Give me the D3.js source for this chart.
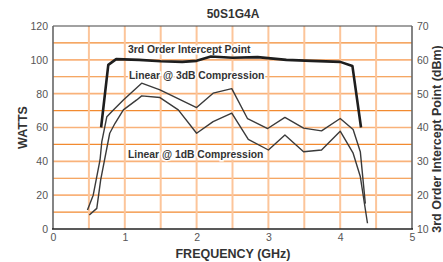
<!DOCTYPE html>
<html>
<head>
<meta charset="utf-8">
<script src="https://cdn.jsdelivr.net/npm/d3@7/dist/d3.min.js"></script>
<style>
  body { margin: 0; background: #fff; }
  svg text { font-family: Arial, "Liberation Sans", Helvetica, sans-serif; }
</style>
</head>
<body>
<svg id="chart" width="443" height="262"></svg>
<script>
// 数据：频率 (GHz) 与功率 (W) / 截获点 (dBm)
const interceptFreq = [0.67, 0.77, 0.88, 1.2, 1.5, 1.8, 2.0, 2.2, 2.5, 2.85, 3.25, 3.6, 4.0, 4.17, 4.29];
const interceptDbm  = [40, 58.5, 60.2, 60, 59.6, 59.4, 59.7, 61, 60.6, 60.8, 60, 59.7, 59.4, 58.2, 40];

const comp3Freq = [0.48, 0.56, 0.655, 0.68, 0.75, 0.82, 0.98, 1.235, 1.49, 2.0, 2.23, 2.49, 2.71, 2.99, 3.23, 3.49, 3.74, 4.0, 4.18, 4.28, 4.35];
const comp3W    = [11.2, 20, 40.8, 51.7, 66.4, 69.4, 76.3, 86.2, 82.2, 71.8, 80.3, 83, 65.2, 59.4, 66, 59.6, 58, 65.3, 58.8, 45.7, 15];

const comp1Freq = [0.506, 0.61, 0.664, 0.79, 0.864, 0.98, 1.166, 1.235, 1.49, 1.745, 2.0, 2.23, 2.49, 2.72, 3.0, 3.23, 3.49, 3.74, 4.0, 4.18, 4.28, 4.38];
const comp1W    = [8.3, 12.2, 29, 56.6, 62.5, 70.4, 76.3, 78.7, 77.7, 70.4, 56.6, 63.5, 68.5, 53, 46.7, 55.6, 45.7, 46.7, 57.8, 44.8, 31, 3.4];

const xTicks = [0, 1, 2, 3, 4, 5];
const leftTicks = [0, 20, 40, 60, 80, 100, 120];
const rightTicks = [10, 20, 30, 40, 50, 60, 70];

const svg = d3.select("#chart");
const margin = { left: 53, right: 412, top: 26, bottom: 229 };

const x = d3.scaleLinear().domain([0, 5]).range([margin.left, margin.right]);
const yL = d3.scaleLinear().domain([0, 120]).range([margin.bottom, margin.top]);
const yR = d3.scaleLinear().domain([10, 70]).range([margin.bottom, margin.top]);

// 网格
const grid = svg.append("g");
grid.selectAll("line.h")
    .data(d3.range(10, 120, 10))
    .enter().append("line")
    .attr("x1", margin.left).attr("x2", margin.right)
    .attr("y1", d => yL(d)).attr("y2", d => yL(d))
    .attr("stroke", d => (d % 20 === 0) ? "#f9b27a" : "#f28a30")
    .attr("stroke-width", d => (d % 20 === 0) ? 1.6 : 1.1);

grid.selectAll("line.v")
    .data(d3.range(0.5, 5, 0.5))
    .enter().append("line")
    .attr("y1", margin.top).attr("y2", margin.bottom)
    .attr("x1", d => x(d)).attr("x2", d => x(d))
    .attr("stroke", "#fcc59a")
    .attr("stroke-width", 2);

// 坐标轴
const tickStyle = g => {
    g.select(".domain").remove();
    g.selectAll(".tick line").remove();
    g.selectAll(".tick text").attr("fill", "#555").attr("font-size", 10.5);
};

svg.append("g")
    .attr("transform", `translate(0,${margin.bottom + 1})`)
    .call(d3.axisBottom(x).tickValues(xTicks).tickFormat(d3.format("d")).tickSize(0).tickPadding(4))
    .call(tickStyle);

svg.append("g")
    .attr("transform", `translate(${margin.left - 3},0)`)
    .call(d3.axisLeft(yL).tickValues(leftTicks).tickSize(0).tickPadding(2))
    .call(tickStyle);

svg.append("g")
    .attr("transform", `translate(${margin.right + 3},0)`)
    .call(d3.axisRight(yR).tickValues(rightTicks).tickSize(0).tickPadding(2))
    .call(tickStyle);

// 边框
svg.append("line").attr("x1", margin.left).attr("x2", margin.right)
    .attr("y1", margin.top).attr("y2", margin.top).attr("stroke", "#444").attr("stroke-width", 1.2);
svg.append("line").attr("x1", margin.left).attr("x2", margin.left)
    .attr("y1", margin.top).attr("y2", margin.bottom).attr("stroke", "#666").attr("stroke-width", 1.6);
svg.append("line").attr("x1", margin.right).attr("x2", margin.right)
    .attr("y1", margin.top).attr("y2", margin.bottom).attr("stroke", "#666").attr("stroke-width", 1.6);
svg.append("line").attr("x1", margin.left - 1).attr("x2", margin.right + 1)
    .attr("y1", margin.bottom).attr("y2", margin.bottom).attr("stroke", "#222").attr("stroke-width", 1.6);

// 标注文字（带白色描边）
const label = (txt, px, py, size) => svg.append("text")
    .attr("x", px).attr("y", py)
    .attr("font-size", size).attr("font-weight", "bold").attr("fill", "#333")
    .attr("stroke", "#fff").attr("stroke-width", 3).attr("paint-order", "stroke")
    .text(txt);

label("3rd Order Intercept Point", 128, 53, 10.35);
label("Linear @ 3dB Compression", 129, 79, 10.35);
label("Linear @ 1dB Compression", 128, 158, 10.35);

// 曲线
const lineL = d3.line().x(d => x(d[0])).y(d => yL(d[1]));
const lineR = d3.line().x(d => x(d[0])).y(d => yR(d[1]));

svg.append("path")
    .datum(d3.zip(comp3Freq, comp3W))
    .attr("d", lineL).attr("fill", "none")
    .attr("stroke", "#3a3a3a").attr("stroke-width", 1.4).attr("stroke-linejoin", "round");

svg.append("path")
    .datum(d3.zip(comp1Freq, comp1W))
    .attr("d", lineL).attr("fill", "none")
    .attr("stroke", "#3a3a3a").attr("stroke-width", 1.4).attr("stroke-linejoin", "round");

svg.append("path")
    .datum(d3.zip(interceptFreq, interceptDbm))
    .attr("d", lineR).attr("fill", "none")
    .attr("stroke", "#1e1e1e").attr("stroke-width", 2.6).attr("stroke-linejoin", "round");

// 标题与轴标题
svg.append("text").attr("x", 233).attr("y", 18)
    .attr("text-anchor", "middle").attr("font-size", 12).attr("font-weight", "bold").attr("fill", "#333")
    .text("50S1G4A");

svg.append("text").attr("x", 233).attr("y", 258)
    .attr("text-anchor", "middle").attr("font-size", 12.5).attr("font-weight", "bold").attr("fill", "#333")
    .text("FREQUENCY (GHz)");

svg.append("text")
    .attr("transform", `translate(27,${(margin.top + margin.bottom) / 2}) rotate(-90)`)
    .attr("text-anchor", "middle").attr("font-size", 12.5).attr("font-weight", "bold").attr("fill", "#333")
    .text("WATTS");

svg.append("text")
    .attr("transform", `translate(441,139) rotate(-90)`)
    .attr("text-anchor", "middle").attr("font-size", 12.5).attr("font-weight", "bold").attr("fill", "#333")
    .text("3rd Order Intercept Point (dBm)");
</script>
</body>
</html>
